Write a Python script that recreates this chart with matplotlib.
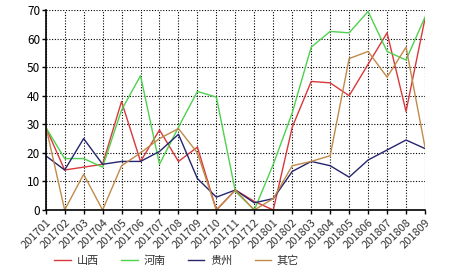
import matplotlib
matplotlib.use("Agg")
import matplotlib.pyplot as plt

plt.rcParams['font.family'] = ['Noto Sans CJK SC', 'DejaVu Sans']

months = ['201701', '201702', '201703', '201704', '201705', '201706', '201707',
          '201708', '201709', '201710', '201711', '201712', '201801', '201802',
          '201803', '201804', '201805', '201806', '201807', '201808', '201809']

shanxi = [29, 14, 15, 16, 38, 17, 28, 17, 22, 0, 7, 3, 0, 29, 45, 44.5, 40, 51, 62, 34.5, 67]
henan = [29, 18, 18, 15, 35, 47, 16, 29, 41.5, 39.5, 6.5, 0, 16, 34, 57, 62.5, 62, 69.5, 55.5, 52.5, 67.5]
guizhou = [19, 14, 25, 16, 17, 17, 20.5, 26.5, 11, 4.5, 7, 2.5, 4, 13.5, 17, 15.5, 11.5, 17.5, 21, 24.5, 21.5]
others = [29.5, 0, 12.5, 0, 15.5, 20, 25, 28.5, 20, 0, 7, 0, 4, 15.5, 17, 19, 53, 55.5, 46.5, 57, 22]

series = [('山西', shanxi, '#d9383a'),
          ('河南', henan, '#4fd14f'),
          ('贵州', guizhou, '#25256e'),
          ('其它', others, '#c08a4a')]

fig = plt.figure(figsize=(4.66, 2.72), dpi=100)
ax = fig.add_axes([45.7 / 466, 62 / 272, (425 - 45.7) / 466, 200 / 272])

x = list(range(len(months)))
for name, vals, col in series:
    ax.plot(x, vals, color=col, lw=1.0, label=name)

ax.set_xlim(0, len(months) - 1)
ax.set_ylim(0, 70)
ax.set_yticks(range(0, 71, 10))
ax.set_xticks(x)
ax.set_xticklabels(months, rotation=45, ha='right', rotation_mode='anchor', fontsize=8, color='#333333')
ax.tick_params(axis='y', labelsize=8.5, length=3, width=1, pad=1, colors='black')
ax.tick_params(axis='x', length=3, width=1, pad=2)
ax.grid(True, linestyle=(0, (1, 1.5)), color='black', lw=0.8)
for s in ['top', 'right']:
    ax.spines[s].set_visible(False)
for s in ['left', 'bottom']:
    ax.spines[s].set_linewidth(1.2)
    ax.spines[s].set_color('black')
ax.set_axisbelow(True)

fig.legend(loc='center left', bbox_to_anchor=(50 / 466, 1 - 261 / 272), ncol=4,
           frameon=False, fontsize=8, handlelength=1.5, columnspacing=2.0,
           handletextpad=0.5, borderaxespad=0, labelcolor='#333333')

fig.savefig('out.png', dpi=100)
